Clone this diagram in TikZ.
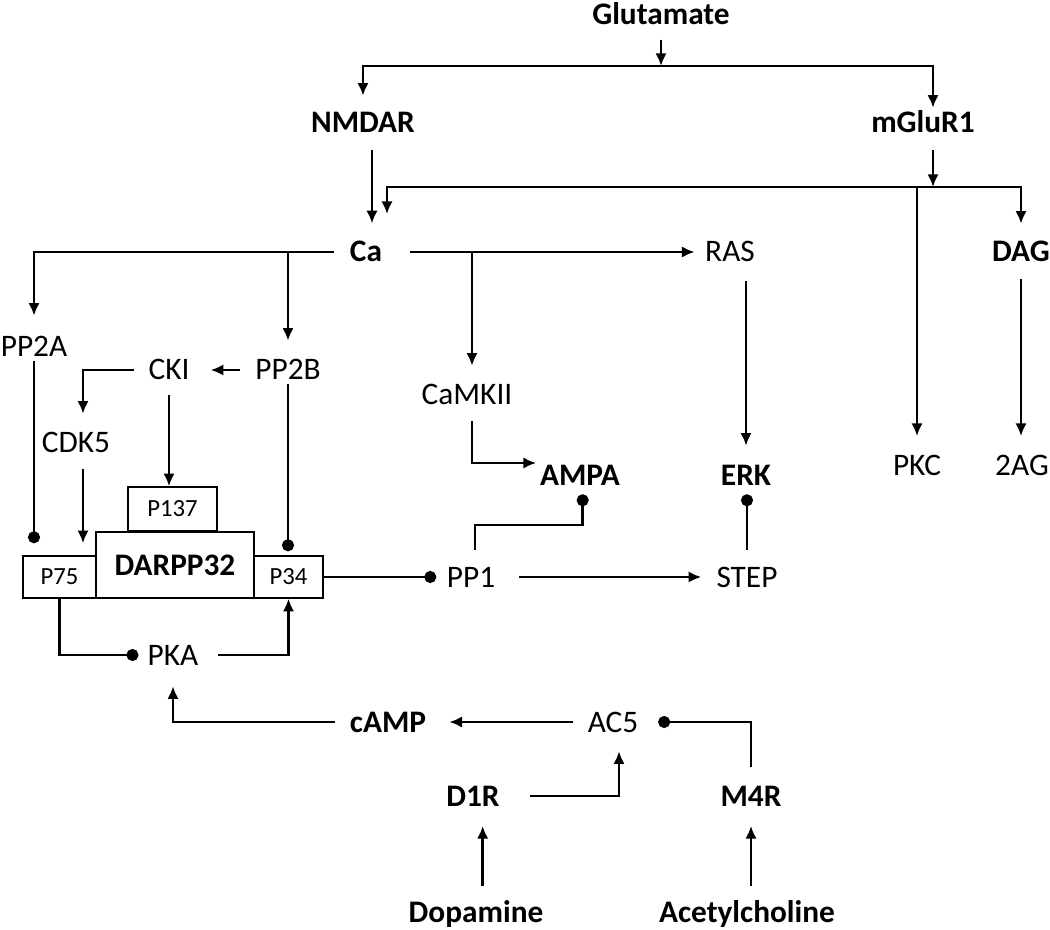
\documentclass[tikz,border=0pt]{standalone}
\usepackage{fontspec}
\setmainfont{Carlito}
\usepackage{tikz}
\usetikzlibrary{arrows.meta}

\tikzset{
	lbl/.style={inner sep=0pt, text height=15pt, text depth=0pt, font=\fontsize{23.5}{27}\selectfont},
	blbl/.style={lbl, font=\fontsize{23.5}{27}\selectfont\bfseries},
	site/.style={draw, line width=1.1pt, inner sep=0pt, text height=11.5pt, text depth=0pt, font=\fontsize{18.5}{21}\selectfont},
	inhib/.style={-{Circle[length=9pt]}},
}

\begin{document}
\begin{tikzpicture}[x=0.75pt, y=-0.75pt, >={Latex[length=9.5pt,width=8.5pt]}, line width=1.9pt]
			%%%	Help Lines
%			\draw [thin, help lines] (0,0) grid[step=50] (1050,930);
			\useasboundingbox (0,0) rectangle (1050,930);
			%%%	Nodi
			\node[blbl] (glu) at (661,15) {Glutamate};
			\node[blbl] (nmdar) at (363,123) {NMDAR};
			\node[blbl] (mglur) at (923,123) {mGluR1};
			\node[blbl] (ca) at (366,252) {Ca};
			\node[lbl] (ras) at (730,252) {RAS};
			\node[blbl] (dag) at (1021,252) {DAG};
			\node[lbl] (pp2a) at (34,347) {PP2A};
			\node[lbl] (cki) at (169,370) {CKI};
			\node[lbl] (pp2b) at (288,370) {PP2B};
			\node[lbl] (camkii) at (467,395) {CaMKII};
			\node[lbl] (cdk5) at (76,443) {CDK5};
			\node[blbl] (ampa) at (580,475) {AMPA};
			\node[blbl] (erk) at (746,475) {ERK};
			\node[lbl] (pkc) at (917,466) {PKC};
			\node[lbl] (twoag) at (1022,466) {2AG};
			\node[site, minimum width=118.5pt, minimum height=49.5pt, text height=15pt, font=\fontsize{23.5}{27}\selectfont\bfseries] (darpp) at (175,565) {DARPP32};
			\node[site, minimum width=66.75pt, minimum height=33pt] (p137) at (172.5,509) {P137};
			\node[site, minimum width=54.75pt, minimum height=31.5pt] (p75) at (59.5,577) {P75};
			\node[site, minimum width=51.75pt, minimum height=31.5pt] (p34) at (288.5,577) {P34};
			\node[lbl] (pp1) at (471,577) {PP1};
			\node[lbl] (stp) at (747,577) {STEP};
			\node[lbl] (pka) at (173,655) {PKA};
			\node[blbl] (camp) at (388,722) {cAMP};
			\node[lbl] (ac5) at (613,722) {AC5};
			\node[blbl] (d1r) at (473,796) {D1R};
			\node[blbl] (m4r) at (751,796) {M4R};
			\node[blbl] (dopa) at (476,912) {Dopamine};
			\node[blbl] (ach) at (747,912) {Acetylcholine};
			\coordinate (gbus) at (661,66);
			\coordinate (mbus) at (933,187);
			\coordinate (pp1bend) at (475,525);
			%%%	Glutammato
			\draw[->, shorten <=10pt] (glu.south) -- (gbus);
			\draw[->] (gbus) -| ([yshift=12pt]nmdar.north);
			\draw[->] (gbus) -| ([xshift=7.5pt,yshift=3pt]mglur.north);
			\draw[->, shorten <=12pt, shorten >=13pt] ([xshift=6.75pt]nmdar.south) -- ([xshift=6.75pt]nmdar.south |- ca.north);
			\draw[->, shorten <=12pt] ([xshift=7.5pt]mglur.south) -- (mbus);
			\draw[->, shorten >=20pt] (mbus) -| ([xshift=15.75pt]ca.north);
			\draw[->, shorten >=12.75pt] (mbus) -| (dag.north);
			\draw[->, shorten >=14pt] (mbus -| pkc.north) -- (pkc.north);
			\draw[->, shorten <=12pt, shorten >=14pt] (dag.south) -- (dag.south |- twoag.north);
			%%%	Ca
			\draw[->, shorten <=11pt, shorten >=15pt] (ca.west) -| (pp2a.north);
			\draw[->, shorten >=13.5pt] (ca.west -| pp2b.north) -- (pp2b.north);
			\draw[->, shorten <=20pt, shorten >=7pt] (ca.east) -- (ras.west);
			\draw[->, shorten >=13.5pt] ([xshift=3.75pt]ca.east -| camkii.north) -- ([xshift=3.75pt]camkii.north);
			\draw[->, shorten <=13.5pt, shorten >=13.5pt] (ras.south -| erk.north) -- (erk.north);
			\draw[->, shorten <=11pt, shorten >=2pt] ([xshift=3.75pt]camkii.south) |- ([yshift=9pt]ampa.west);
			%%%	DARPP32
			\draw[->, shorten <=10.5pt, shorten >=15pt] (pp2b.west) -- (cki.east);
			\draw[->, shorten <=10pt, shorten >=13.5pt] (cki.west) -| ([xshift=5.25pt]cdk5.north);
			\draw[->, shorten <=10pt] (cki.south) -- (cki.south |- p137.north);
			\draw[inhib, shorten <=2pt, shorten >=9pt] (pp2a.south) -- (pp2a.south |- p75.north);
			\draw[->, shorten <=11pt, shorten >=9pt] ([xshift=5.25pt]cdk5.south) -- ([xshift=5.25pt]cdk5.south |- p75.north);
			\draw[inhib, shorten <=2pt, shorten >=3pt] (pp2b.south) -- (pp2b.south |- p34.north);
			\draw[inhib, shorten >=6pt] (p75.south) |- (pka.west);
			\draw[->, shorten <=14pt] (pka.east) -| (p34.south);
			\draw[inhib, shorten >=7pt] (p34.east) -- (pp1.west);
			\draw[->, shorten <=17pt, shorten >=10.5pt] (pp1.east) -- (stp.west);
			\draw[inhib, shorten <=12pt, shorten >=6pt] ([xshift=3pt]pp1.north) -- (pp1bend) -| ([xshift=2pt]ampa.south);
			\draw[inhib, shorten <=12pt, shorten >=6pt] (stp.north) -- (stp.north |- erk.south);
			%%%	cAMP
			\draw[->, shorten <=10pt, shorten >=15pt] (camp.west) -| (pka.south);
			\draw[->, shorten <=10pt, shorten >=16.5pt] (ac5.west) -- (camp.east);
			\draw[inhib, shorten <=13.5pt, shorten >=14pt] (m4r.north) |- (ac5.east);
			\draw[->, shorten <=22pt, shorten >=13.5pt] (d1r.east) -| ([xshift=4.5pt]ac5.south);
			\draw[->, shorten <=11pt, shorten >=14pt] ([xshift=5pt]dopa.north) -- ([xshift=5pt]dopa.north |- d1r.south);
			\draw[->, shorten <=11pt, shorten >=14pt] ([xshift=3pt]ach.north) -- ([xshift=3pt]ach.north |- m4r.south);
		\end{tikzpicture}
\end{document}
